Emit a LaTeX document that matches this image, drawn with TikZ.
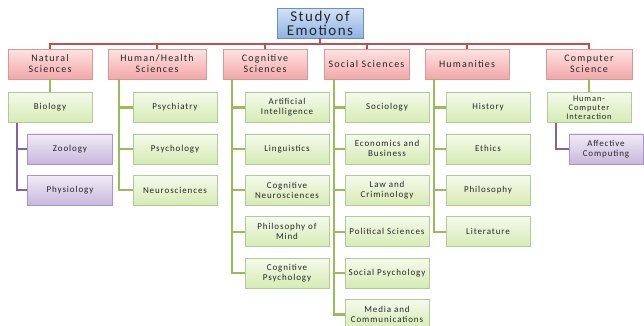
\documentclass[tikz,border=0pt]{standalone}
\usepackage{fontspec}
\setmainfont{Carlito}
\newfontfamily\rootfont[LetterSpace=10]{Carlito}
\newfontfamily\catfont[LetterSpace=12]{Carlito}
\newfontfamily\leaffont[LetterSpace=10]{Carlito}
\usetikzlibrary{positioning,shadows}

\definecolor{rootTop}{HTML}{D3E2F7}
\definecolor{rootBot}{HTML}{8DB4E2}
\definecolor{rootLine}{HTML}{6A91C6}
\definecolor{catTop}{HTML}{FDE3E3}
\definecolor{catBot}{HTML}{F3A7A7}
\definecolor{catLine}{HTML}{D39A99}
\definecolor{leafTop}{HTML}{F5FAEC}
\definecolor{leafBot}{HTML}{D6EBB3}
\definecolor{leafLine}{HTML}{B3C99A}
\definecolor{subTop}{HTML}{F1ECF7}
\definecolor{subBot}{HTML}{C8B7DD}
\definecolor{subLine}{HTML}{A996C4}
\definecolor{redLink}{HTML}{C0504D}
\definecolor{greenLink}{HTML}{9BBB59}
\definecolor{purpleLink}{HTML}{8064A2}

\begin{document}
\begin{tikzpicture}[
    x=1pt, y=-1pt,
    node distance=11pt,     % gap between stacked boxes
    box/.style={draw, align=center, inner sep=1pt, minimum height=30pt, text=black!85,
        drop shadow={shadow xshift=0.8pt, shadow yshift=-0.8pt, opacity=0.25}},
    rootbox/.style={box, minimum width=86pt, top color=rootTop, bottom color=rootBot,
        draw=rootLine, font=\rootfont\fontsize{15}{14}\selectfont},
    catbox/.style={box, minimum width=84pt, top color=catTop, bottom color=catBot,
        draw=catLine, font=\catfont\fontsize{10}{11}\selectfont},
    leafbox/.style={box, minimum width=84pt, top color=leafTop, bottom color=leafBot,
        draw=leafLine, font=\leaffont\fontsize{9}{10}\selectfont},
    subbox/.style={box, minimum width=85pt, top color=subTop, bottom color=subBot,
        draw=subLine, font=\leaffont\fontsize{9}{10}\selectfont},
    rline/.style={draw=redLink, line width=2pt},
    gline/.style={draw=greenLink, line width=2.2pt},
    pline/.style={draw=purpleLink, line width=1.8pt}]
    \useasboundingbox (0,0) rectangle (644,325);

    % Root
    \node[rootbox] (root) at (320,23) {Study of\\Emotions};

    % Fields
    \node[catbox] (nat) at (50,64) {Natural\\Sciences};
    \node[catbox, minimum width=98pt] (hum) at (157,64) {Human/Health\\Sciences};
    \node[catbox] (cog) at (265,64) {Cognitive\\Sciences};
    \node[catbox, minimum width=85pt] (soc) at (366.5,64) {Social Sciences};
    \node[catbox] (hmn) at (467,64) {Humanities};
    \node[catbox, minimum width=86pt] (cs) at (589,64) {Computer\\Science};

    % Natural Sciences
    \node[leafbox, below=13pt of nat] (bio) {Biology};
    \node[subbox, below=of bio, xshift=20pt] (zoo) {Zoology};
    \node[subbox, below=of zoo] (phys) {Physiology};

    % Human/Health Sciences
    \node[leafbox, below=13pt of hum, xshift=18pt] (psyc) {Psychiatry};
    \node[leafbox, below=of psyc] (psyo) {Psychology};
    \node[leafbox, below=of psyo] (neur) {Neurosciences};

    % Cognitive Sciences
    \node[leafbox, below=13pt of cog, xshift=22pt] (ai) {Artificial\\Intelligence};
    \node[leafbox, below=of ai] (ling) {Linguistics};
    \node[leafbox, below=of ling] (cneu) {Cognitive\\Neurosciences};
    \node[leafbox, below=of cneu] (phm) {Philosophy of\\Mind};
    \node[leafbox, below=of phm] (cpsy) {Cognitive\\Psychology};

    % Social Sciences
    \node[leafbox, below=13pt of soc, xshift=20.5pt] (socl) {Sociology};
    \node[leafbox, below=of socl] (econ) {Economics and\\Business};
    \node[leafbox, below=of econ] (law) {Law and\\Criminology};
    \node[leafbox, below=of law] (pol) {Political Sciences};
    \node[leafbox, below=of pol] (spsy) {Social Psychology};
    \node[leafbox, below=of spsy] (media) {Media and\\Communications};

    % Humanities
    \node[leafbox, below=13pt of hmn, xshift=21pt] (hist) {History};
    \node[leafbox, below=of hist] (eth) {Ethics};
    \node[leafbox, below=of eth] (phil) {Philosophy};
    \node[leafbox, below=of phil] (lit) {Literature};

    % Computer Science
    \node[leafbox, below=13pt of cs, font=\leaffont\fontsize{8.5}{9}\selectfont] (hci) {Human-\\Computer\\Interaction};
    \node[subbox, below=of hci, xshift=17pt, minimum width=74pt] (afc) {Affective\\Computing};

    % Top level links
    \coordinate (bus) at ([yshift=-6pt]root.south);
    \draw[rline] (root.south) -- (bus);
    \foreach \n in {nat,hum,cog,soc,hmn,cs}
        \draw[rline] (bus) -| (\n.north);

    % Field links
    \draw[gline] (nat) -- (bio);
    \draw[gline] (cs) -- (hci);
    \coordinate (humstem) at ([xshift=11pt]hum.south west);
    \foreach \n in {psyc,psyo,neur}
        \draw[gline] (humstem) |- (\n.west);
    \coordinate (cogstem) at ([xshift=9pt]cog.south west);
    \foreach \n in {ai,ling,cneu,phm,cpsy}
        \draw[gline] (cogstem) |- (\n.west);
    \coordinate (socstem) at ([xshift=10pt]soc.south west);
    \foreach \n in {socl,econ,law,pol,spsy,media}
        \draw[gline] (socstem) |- (\n.west);
    \coordinate (hmnstem) at ([xshift=9pt]hmn.south west);
    \foreach \n in {hist,eth,phil,lit}
        \draw[gline] (hmnstem) |- (\n.west);

    % Sub-field links
    \coordinate (biostem) at ([xshift=9pt]bio.south west);
    \foreach \n in {zoo,phys}
        \draw[pline] (biostem) |- (\n.west);
    \coordinate (hcistem) at ([xshift=9pt]hci.south west);
    \draw[pline] (hcistem) |- (afc.west);
\end{tikzpicture}
\end{document}
